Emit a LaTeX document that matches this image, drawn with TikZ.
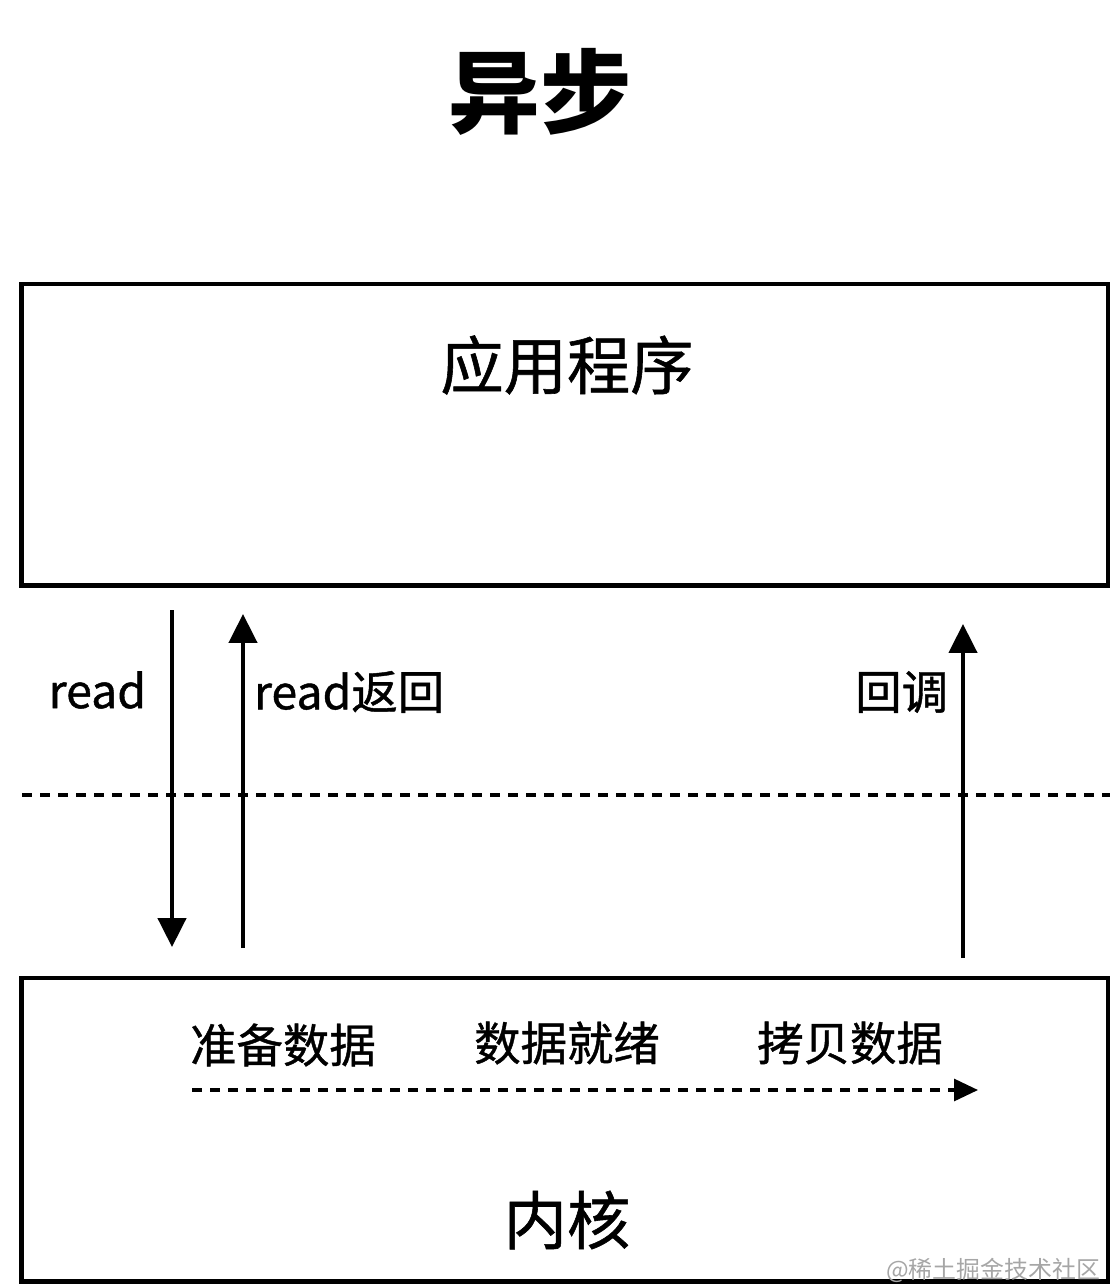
\documentclass[tikz,border=0pt]{standalone}
\usepackage{fontspec}
\setmainfont{Noto Sans CJK SC}
\newfontfamily\medfont[FakeBold=0.9]{Noto Sans CJK SC}
\usetikzlibrary{arrows.meta, positioning}
\tikzset{
  every picture/.style={line width=2.8pt},
  layer/.style={draw, line width=3.5pt, minimum width=27.15cm, inner sep=0pt},
  call/.style={-{Triangle[width=0.7cm, length=0.72cm]}, line width=2.8pt},
  cut/.style={line width=2.2pt, dash pattern=on 0.25cm off 0.2cm},
  flow/.style={cut, -{Triangle[width=0.55cm, length=0.6cm]}},
  title/.style={font=\fontsize{65}{70}\selectfont\bfseries, inner sep=0pt},
  big/.style={font=\fontsize{45}{50}\selectfont\medfont, inner sep=0pt},
  mid/.style={font=\fontsize{33}{38}\selectfont\medfont, inner sep=0pt},
  mark label/.style={font=\fontsize{17}{20}\selectfont, text=black!35, inner sep=0pt},
}

\begin{document}
\begin{tikzpicture}[x=0.025cm, y=-0.025cm]
  \useasboundingbox (0,0) rectangle (1110,1284);
  \node[title] (head) at (540,92) {异步};
  % user space and kernel
  \node[layer, minimum height=7.525cm] (app) at (565,434.5) {};
  \node[big] (apptext) at (567,365) {应用程序};
  \node[layer, minimum height=7.575cm] (kernel) at (565,1129.5) {};
  \node[big] (kerneltext) at (567,1220) {内核};
  % boundary
  \coordinate (sepL) at (22,795);
  \coordinate (sepR) at (1110,795);
  \draw[cut] (sepL) -- (sepR);
  % calls
  \coordinate (readA) at (172,610);
  \coordinate (readB) at (172,947);
  \coordinate (retA) at (243,948);
  \coordinate (retB) at (243,614);
  \coordinate (cbA) at (963,958);
  \coordinate (cbB) at (963,624);
  \draw[call] (readA) -- (readB);
  \draw[call] (retA) -- (retB);
  \draw[call] (cbA) -- (cbB);
  \node[mid, anchor=east] (readtext) at (148,690) {read};
  \node[mid, anchor=west] (rettext) at (252,692) {read返回};
  \node[mid, anchor=east] (cbtext) at (950,692) {回调};
  % kernel stages
  \node[mid] (prep) at (283,1045) {准备数据};
  \node[mid] (ready) at (567,1043) {数据就绪};
  \node[mid] (copy) at (850,1043) {拷贝数据};
  \coordinate (flowA) at (192,1090);
  \coordinate (flowB) at (978,1090);
  \draw[flow] (flowA) -- (flowB);
  \node[mark label, anchor=east] (mark) at (1102,1270) {@稀土掘金技术社区};
\end{tikzpicture}
\end{document}
